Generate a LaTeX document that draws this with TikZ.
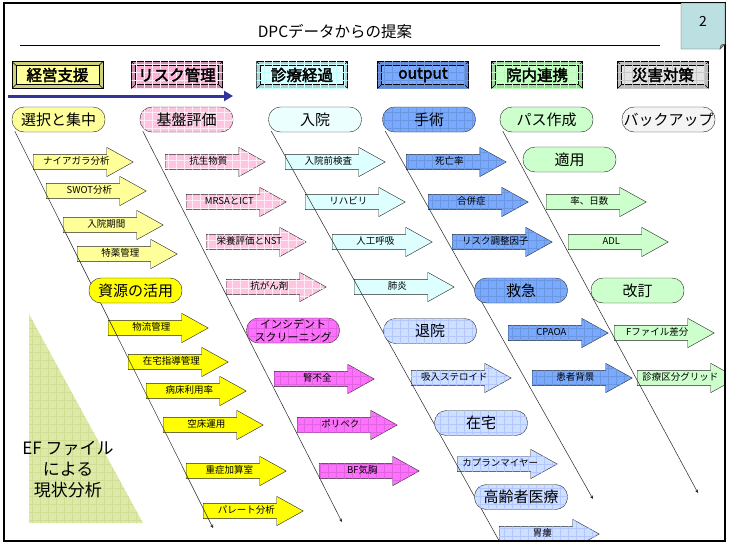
\documentclass[tikz,border=0pt]{standalone}
\usepackage{fontspec}
\setmainfont{Noto Sans CJK JP}[AutoFakeBold=2.5]
\usetikzlibrary{arrows,arrows.meta,calc,shapes,patterns.meta}
\pgfdeclarelayer{background}
\pgfsetlayers{background,main}
\definecolor{kiiro}{HTML}{FFFF99}
\definecolor{kiiroB}{HTML}{FFFF00}
\definecolor{momo}{HTML}{FFC4E1}
\definecolor{momoH}{HTML}{FFB0D8}
\definecolor{murasaki}{HTML}{FF70FF}
\definecolor{mizu}{HTML}{DDFFFF}
\definecolor{sora}{HTML}{CCE0FF}
\definecolor{ao}{HTML}{7AAAFF}
\definecolor{midori}{HTML}{CCFFCC}
\definecolor{hai}{HTML}{E4E4E4}
\definecolor{kon}{HTML}{333399}
\definecolor{efgreen}{HTML}{DCEAA8}
\definecolor{pagebox}{HTML}{BCDFE1}

\begin{document}
\begin{tikzpicture}[x=1pt,y=-1pt,
  hdr/.style={draw=black,fill=#1!82!black,minimum width=91pt,minimum height=27pt,inner sep=0pt,
    font=\fontsize{15.5}{17}\selectfont\bfseries,
    path picture={\draw[fill=#1] ([shift={(4pt,-4pt)}]path picture bounding box.north west) rectangle ([shift={(-4pt,4pt)}]path picture bounding box.south east);
      \draw (path picture bounding box.north west) -- ++(4pt,-4pt) (path picture bounding box.north east) -- ++(-4pt,-4pt)
        (path picture bounding box.south west) -- ++(4pt,4pt) (path picture bounding box.south east) -- ++(-4pt,4pt);}},
  pill/.style={draw=black!85,fill=#1,rounded corners=12pt,minimum width=93pt,minimum height=25pt,inner sep=0pt,font=\fontsize{15}{17}\selectfont},
  blk/.style={single arrow,draw=black!85,fill=#1,single arrow head extend=7pt,single arrow tip angle=58,minimum height=100pt,
    inner xsep=3pt,inner ysep=3.2pt,text height=7pt,text depth=1.5pt,anchor=tail,font=\fontsize{9.5}{10}\selectfont},
  grd/.style={postaction={pattern={Lines[angle=0,distance=8pt,line width=.5pt]},pattern color=#1},
    postaction={pattern={Lines[angle=90,distance=8pt,line width=.5pt]},pattern color=#1}},
  fish/.style={-stealth,black!85,line width=.5pt}
]
\useasboundingbox (0,0) rectangle (729,544);

% title and page number
\node[font=\fontsize{15.5}{17}\selectfont] (ttl) at (335,32) {DPCデータからの提案};
\draw (20,45) -- (660,45);

% headers
\node[hdr=kiiro] (h1) at (57.5,75) {経営支援};
\node[hdr=momoH,grd=white!70!momoH] (h2) at (177,75) {リスク管理};
\node[hdr=mizu,grd=mizu!88!cyan] (h3) at (302,75) {診療経過};
\node[hdr=ao,grd=ao!88!black] (h4) at (423,75) {output};
\node[hdr=midori,grd=midori!88!green] (h5) at (537,75) {院内連携};
\node[hdr=hai,grd=hai!88!black] (h6) at (663,75) {災害対策};
\draw[kon,line width=3pt,-{Triangle[length=9pt,width=10pt]}] (8,96) -- (233,96);

% bones
\node[pill=kiiro] (p1) at (58.5,119.5) {選択と集中};
\node[pill=momo,grd=white!70!momo] (p2) at (186.5,119.5) {基盤評価};
\node[pill=mizu!60] (p3) at (315,119.5) {入院};
\node[pill=ao,grd=ao!88!black] (p4) at (429,119.5) {手術};
\node[pill=midori] (p5) at (546.5,119.5) {パス作成};
\node[pill=hai!40] (p6) at (668.5,119.5) {バックアップ};
\node[pill=kiiroB] (s1) at (135.5,290.5) {資源の活用};
\node[pill=murasaki,grd=murasaki!88!black,align=center,font=\fontsize{11}{12.5}\selectfont] (s2) at (293,330.5) {インシデント\\スクリーニング};
\node[pill=sora,grd=sora!88!blue] (s3) at (430,331) {退院};
\node[pill=sora,grd=sora!88!blue] (s4) at (481,423) {在宅};
\node[pill=sora,grd=sora!88!blue] (s5) at (521,497) {高齢者医療};
\node[pill=ao,grd=ao!88!black] (s6) at (521,290.5) {救急};
\node[pill=midori] (s7) at (569.5,159.5) {適用};
\node[pill=midori] (s8) at (637.5,290.5) {改訂};

% current state
\path[fill=efgreen,grd=efgreen!88!olive] (29,314) -- (29,523) -- (143,523) -- cycle;
\node[align=center,font=\fontsize{17}{21}\selectfont] (ef) at (68,470) {EF ファイル\\による\\現状分析};

\draw[line width=2pt] (4,3) rectangle (725,541);
\draw[fill=pagebox,draw=black!70] (681,3) -- (725,3) -- (725,44) -- (720,49) -- (681,49) -- cycle;
\draw[fill=pagebox!70!black,draw=black!70] (720,49) -- (721,45) -- (725,44) -- cycle;
\node[font=\fontsize{14}{16}\selectfont] (pg) at (703,21) {2};

\begin{pgfonlayer}{background}
\fill[white] (0,0) rectangle (729,544);
\begin{scope}
\clip (4,3) rectangle (725,541);
\node[blk=kiiro] (a1) at (33,162) {ナイアガラ分析};
\node[blk=kiiro] (a2) at (46,191) {SWOT分析};
\node[blk=kiiro] (a3) at (63,225) {入院期間};
\node[blk=kiiro] (a4) at (77,254) {特薬管理};
\node[blk=kiiroB] (a5) at (108,328) {物流管理};
\node[blk=kiiroB] (a6) at (128,362) {在宅指導管理};
\node[blk=kiiroB] (a7) at (146,391) {病床利用率};
\node[blk=kiiroB] (a8) at (163,425) {空床運用};
\node[blk=kiiroB] (a9) at (186,471) {重症加算室};
\node[blk=kiiroB] (a10) at (203,511) {パレート分析};
\node[blk=momo,grd=white!70!momo] (b1) at (165,162) {抗生物質};
\node[blk=momo,grd=white!70!momo] (b2) at (186,202) {MRSAとICT};
\node[blk=momo,grd=white!70!momo] (b3) at (206,242) {栄養評価とNST};
\node[blk=momo,grd=white!70!momo] (b4) at (226,287) {抗がん剤};
\node[blk=murasaki,grd=murasaki!88!black] (b5) at (274,379) {腎不全};
\node[blk=murasaki,grd=murasaki!88!black] (b6) at (297,425) {ポリペク};
\node[blk=murasaki,grd=murasaki!88!black] (b7) at (319,471) {BF気胸};
\node[blk=mizu] (c1) at (285,162) {入院前検査};
\node[blk=mizu] (c2) at (305,202) {リハビリ};
\node[blk=mizu] (c3) at (332,242) {人工呼吸};
\node[blk=mizu] (c4) at (354,287) {肺炎};
\node[blk=sora,grd=sora!88!blue] (c5) at (411,378) {吸入ステロイド};
\node[blk=sora,grd=sora!88!blue] (c6) at (457,464) {カプランマイヤー};
\node[blk=sora,grd=sora!88!blue] (c7) at (499,534) {胃瘻};
\node[blk=ao,grd=ao!88!black] (d1) at (406,162) {死亡率};
\node[blk=ao,grd=ao!88!black] (d2) at (428,202) {合併症};
\node[blk=ao,grd=ao!88!black] (d3) at (452,242) {リスク調整因子};
\node[blk=ao,grd=ao!88!black] (d4) at (508,333) {CPAOA};
\node[blk=ao,grd=ao!88!black] (d5) at (532,378) {患者背景};
\node[blk=midori] (f1) at (546,202) {率、日数};
\node[blk=midori] (f2) at (568,242) {ADL};
\node[blk=midori] (f3) at (614,333) {Fファイル差分};
\node[blk=midori] (f4) at (637,378) {診療区分グリッド};
% diagonal lines
\coordinate (e1) at (213,528);
\coordinate (e2) at (342,522);
\coordinate (e3) at (502,546);
\coordinate (e4) at (593,499);
\coordinate (e5) at (698,493);
\draw[fish] ($(p1.south west)+(3,-1)$) -- (e1);
\draw[fish] ($(p2.south west)+(3,-1)$) -- (e2);
\draw[fish] ($(p3.south west)+(3,-1)$) -- (e3);
\draw[fish] ($(p4.south west)+(3,-1)$) -- (e4);
\draw[fish] ($(p5.south west)+(3,-1)$) -- (e5);
\end{scope}
\end{pgfonlayer}
\end{tikzpicture}
\end{document}
